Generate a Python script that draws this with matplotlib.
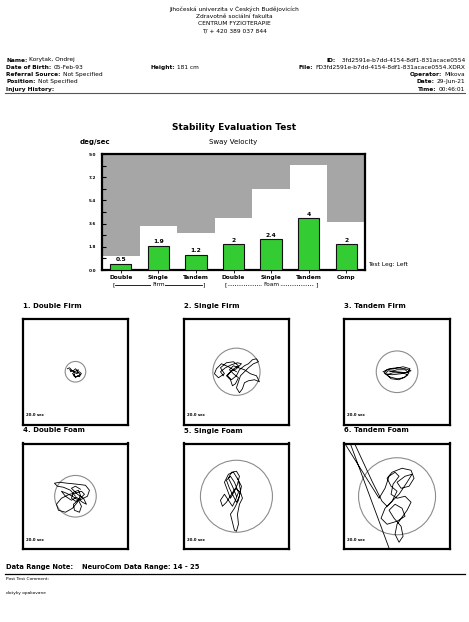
"""NeuroCom style stability report: sway velocity bars and six stabilograms."""

import matplotlib

matplotlib.use("Agg")
import matplotlib.pyplot as plt
from matplotlib.patches import Circle

W, H = 469, 622

# ---- report data -------------------------------------------------------
header_lines = [
    "Jihočeská univerzita v Českých Budějovicích",
    "Zdravotně sociální fakulta",
    "CENTRUM FYZIOTERAPIE",
    "T/ + 420 389 037 844",
]
left_info = [
    ("Name:", "Korytak, Ondrej"),
    ("Date of Birth:", "05-Feb-93"),
    ("Referral Source:", "Not Specified"),
    ("Position:", "Not Specified"),
    ("Injury History:", ""),
]
right_info = [
    ("ID:", "  3fd2591e-b7dd-4154-8df1-831acace0554"),
    ("File:", "FD3fd2591e-b7dd-4154-8df1-831acace0554.XDRX"),
    ("Operator:", "Mikova"),
    ("Date:", "29-Jun-21"),
    ("Time:", "00:46:01"),
]

conditions = ["Double", "Single", "Tandem", "Double", "Single", "Tandem", "Comp"]
sway_velocity = [0.5, 1.9, 1.2, 2.0, 2.4, 4.0, 2.0]
norm_limit = [1.1, 3.45, 2.9, 4.0, 6.3, 8.15, 3.75]
y_ticks = [0.0, 1.8, 3.6, 5.4, 7.2, 9.0]

trial_titles = ["1. Double Firm", "2. Single Firm", "3. Tandem Firm",
                "4. Double Foam", "5. Single Foam", "6. Tandem Foam"]
ellipse_radius = [10.3, 23.6, 20.8, 20.8, 36.0, 38.5]

# centre of pressure traces (box units, +-52)
trace_1 = [(-8, 3), (-6, 4), (-4, 2), (-5, 0), (-2, 1), (0, 3), (2, 1), (1, -2), (3, -1),
           (5, -3), (4, -5), (2, -4), (0, -6), (-1, -3), (-3, -2), (-1, 0), (1, 1), (3, 2),
           (2, -1), (4, 0), (6, -2), (3, -4), (1, -5), (-2, -4), (0, -1), (-3, 1), (-6, 2)]
trace_2 = [(0, 0), (-8, 5), (-15, 8), (-20, 3), (-22, -2), (-18, -6), (-12, -2), (-16, 4),
           (-10, 9), (-3, 10), (2, 6), (-4, 2), (-9, -4), (-5, -8), (0, -4), (3, 2), (8, 6),
           (12, 8), (16, 12), (20, 13), (22, 10), (17, 8), (12, 4), (8, 0), (4, -4), (2, -10),
           (0, -16), (3, -21), (6, -17), (8, -11), (12, -9), (18, -8), (23, -10), (20, -4),
           (14, -2), (8, 2), (2, 4), (-3, 6), (-7, 2), (-3, -2), (2, -6), (-1, -12), (-4, -14),
           (-6, -8), (-10, -4), (-6, 0), (0, 3), (5, 8), (1, 9), (-5, 7), (-11, 4), (-16, 0),
           (-13, -4)]
trace_3 = [(-14, 0), (-8, 3), (0, 4), (8, 3), (14, 1), (9, -1), (0, 0), (-9, 1), (-12, -2),
           (-5, -3), (4, -2), (11, 0), (13, 3), (6, 5), (-3, 3), (-10, 2), (-13, -1), (-8, -5),
           (0, -7), (7, -6), (11, -3), (5, -1), (-4, -1), (-10, -3), (-6, -7), (2, -8), (8, -5),
           (12, -1), (8, 2), (0, 2), (-7, 0)]
trace_4 = [(0, 0), (-5, 6), (-12, 9), (-18, 10), (-21, 13), (-16, 14), (-8, 13), (2, 12),
           (10, 11), (14, 6), (12, 0), (6, -3), (0, -5), (-4, -2), (-2, 4), (3, 6), (5, 1),
           (2, -6), (-3, -12), (-10, -16), (-17, -14), (-19, -8), (-14, -2), (-6, 2), (0, 3),
           (6, 5), (9, 2), (4, -3), (-2, -8), (-1, -14), (4, -16), (6, -10), (3, -4), (-3, 0),
           (-9, 3), (-14, 5), (-10, 0), (-4, -4), (1, -1), (7, -6), (11, -8), (8, -2), (2, 2),
           (-4, 8), (0, 10), (5, 7)]
trace_5 = [(0, 0), (-4, 10), (-8, 18), (-5, 24), (0, 25), (3, 20), (1, 12), (-2, 5), (-6, -2),
           (-9, 6), (-12, 14), (-8, 22), (-3, 24), (2, 16), (4, 6), (2, -4), (-2, -12),
           (-6, -18), (-4, -26), (-2, -34), (0, -35), (2, -28), (1, -18), (3, -8), (6, -2),
           (4, 4), (-1, 8), (-5, 2), (-10, -6), (-14, -10), (-16, -4), (-12, 2), (-8, -4),
           (-4, -10), (-1, -4), (2, 4), (-2, 14), (-6, 20), (-10, 16), (-7, 8), (-3, 0),
           (0, -6), (3, 0), (5, 10), (1, 18)]
trace_6 = [(-5, -60), (-48, 56), (-44, 56), (-25, 15), (-15, -5), (-10, -10), (-5, -5), (0, 5),
           (-6, 10), (-10, 18), (-5, 24), (5, 28), (14, 26), (17, 18), (12, 10), (4, 8), (0, 14),
           (8, 20), (15, 22), (10, 14), (2, 2), (-5, -5), (-12, -12), (-16, -22), (-10, -28),
           (0, -25), (8, -20), (5, -12), (-2, -8), (-8, -14), (-3, -22), (4, -30), (6, -40),
           (2, -46), (-2, -38), (0, -28), (10, -14), (14, -6), (8, 0), (0, -2), (-6, 2),
           (-4, 12), (2, 20), (-2, 24), (-8, 20), (-12, 8), (-18, -2), (-53, 54)]
traces = [trace_1, trace_2, trace_3, trace_4, trace_5, trace_6]

fig = plt.figure(figsize=(W / 100, H / 100), dpi=100)
fig.patch.set_facecolor("white")


def px_axes(left, top, right, bottom):
    return fig.add_axes([left / W, 1 - bottom / H, (right - left) / W, (bottom - top) / H])


def ftext(x, y, s, **kw):
    kw.setdefault("va", "center")
    return fig.text(x / W, 1 - y / H, s, **kw)


renderer = fig.canvas.get_renderer()


def info_line(x, y, label, value, align="left", size=4.2, gap=2, value_bold=False):
    vw = "bold" if value_bold else "normal"
    if align == "left":
        t = ftext(x, y, label, fontsize=size, fontweight="bold")
        w = t.get_window_extent(renderer).width
        ftext(x + w + gap, y, value, fontsize=size, fontweight=vw)
    else:
        t = ftext(x, y, value, fontsize=size, ha="right", fontweight=vw)
        w = t.get_window_extent(renderer).width
        ftext(x - w - gap, y, label, fontsize=size, fontweight="bold", ha="right")


# ---- header --------------------------------------------------------------
for i, line in enumerate(header_lines):
    ftext(234, 9 + i * 7.4, line, fontsize=4.2, ha="center")

for i, (lab, val) in enumerate(left_info):
    info_line(6, 60 + i * 7.3, lab, val)
for i, (lab, val) in enumerate(right_info):
    info_line(465, 60 + i * 7.3, lab, val, align="right")
info_line(150, 67.3, "Height:", "181 cm")
fig.add_artist(plt.Line2D([5 / W, 465 / W], [1 - 92.5 / H] * 2, color="#555555", lw=0.8))

# ---- sway velocity chart -------------------------------------------------
ftext(234, 128, "Stability Evaluation Test", fontsize=6.5, fontweight="bold", ha="center")
ftext(80, 142, "deg/sec", fontsize=5, fontweight="bold")
ftext(233, 142, "Sway Velocity", fontsize=5, ha="center")

ax = px_axes(102, 154, 365, 270)
x = list(range(len(conditions)))
ax.bar(x, [9.0 - n for n in norm_limit], bottom=norm_limit, width=1.0,
       color="#a6a6a6", linewidth=0, zorder=1)
ax.bar(x, sway_velocity, width=0.57, color="#33cc33", edgecolor="#111111",
       linewidth=0.8, zorder=3)
for xi, v in zip(x, sway_velocity):
    ax.text(xi, v + 0.12, f"{v:g}", ha="center", va="bottom", fontsize=4.3,
            fontweight="bold", zorder=4)
ax.set_xlim(-0.5, 6.5)
ax.set_ylim(0, 9.0)
ax.set_yticks(y_ticks)
ax.set_yticklabels([f"{t:.1f}" for t in y_ticks], fontsize=3, fontweight="bold")
ax.set_yticks([t + 0.9 for t in y_ticks[:-1]], minor=True)
ax.tick_params(axis="y", which="both", direction="in", length=3, width=0.8, pad=4)
ax.set_xticks(x)
ax.set_xticklabels(conditions, fontsize=4.2, fontweight="bold")
ax.tick_params(axis="x", direction="out", length=2, width=0.6, pad=1.5)
for sp in ax.spines.values():
    sp.set_linewidth(1.6)

# Firm / Foam brackets under the axis
tr = ax.get_xaxis_transform()
groups = [("Firm", 0, 2, "-"), ("Foam", 3, 5, ":")]
for name, a, b, ls in groups:
    lo, hi, mid = a - 0.2, b + 0.2, (a + b) / 2
    yb = -0.125
    ax.text(lo, yb, "[", transform=tr, fontsize=4.5, ha="center", va="center")
    ax.text(hi, yb, "]", transform=tr, fontsize=4.5, ha="center", va="center")
    ax.text(mid, yb, name, transform=tr, fontsize=4.2, ha="center", va="center",
            bbox=dict(facecolor="white", edgecolor="none", pad=0.6), zorder=5)
    ax.plot([lo + 0.05, hi - 0.05], [yb, yb], transform=tr, color="black",
            lw=0.6, ls=ls, clip_on=False, zorder=4)
ax.text(1.01, 0.05, "Test Leg: Left", transform=ax.transAxes, fontsize=4.3,
        ha="left", va="center")

# ---- stabilograms --------------------------------------------------------
col_left = [22.7, 183.7, 344.3]
row_top = [319, 443.5]
box = 105.5
for k, (title, pts, r) in enumerate(zip(trial_titles, traces, ellipse_radius)):
    left, top = col_left[k % 3], row_top[k // 3]
    ftext(left, top - 13, title, fontsize=5, fontweight="bold")
    sa = px_axes(left, top, left + box, top + box)
    sa.set_xlim(-box / 2, box / 2)
    sa.set_ylim(-box / 2, box / 2)
    sa.set_xticks([])
    sa.set_yticks([])
    for sp in sa.spines.values():
        sp.set_linewidth(1.6)
    sa.add_patch(Circle((0, 0), r, fill=False, edgecolor="#8c8c8c", lw=0.8))
    sa.plot([p[0] for p in pts], [p[1] for p in pts], color="black", lw=0.6)
    sa.text(0.03, 0.09, "20.0 sec", transform=sa.transAxes, fontsize=2.8,
            fontweight="bold", va="center")

# ---- footer --------------------------------------------------------------
info_line(6, 566.5, "Data Range Note:", "NeuroCom Data Range: 14 - 25",
          size=4.9, gap=9, value_bold=True)
fig.add_artist(plt.Line2D([5 / W, 465 / W], [1 - 574 / H] * 2, color="black", lw=0.9))
ftext(6, 579.5, "Post Test Comment:", fontsize=3.2)
ftext(6, 593, "dotyky opakovane", fontsize=3.2)

fig.savefig("out.png", dpi=100, facecolor="white")
